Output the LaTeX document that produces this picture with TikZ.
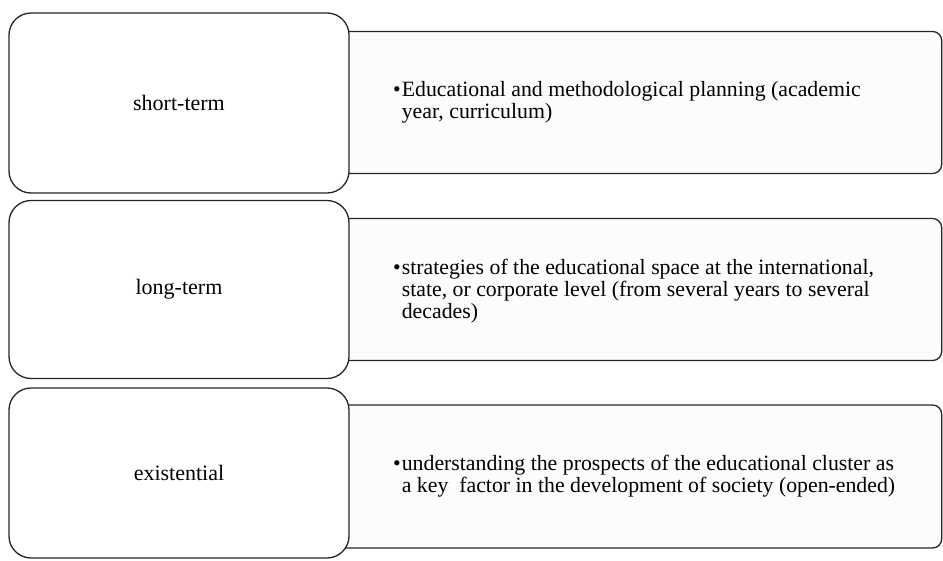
\documentclass[tikz,border=0pt]{standalone}
\usepackage{fontspec}
\setmainfont{Liberation Serif}
\usetikzlibrary{positioning}

\begin{document}
\begin{tikzpicture}[
    x=1pt, y=-1pt,
    termbox/.style ={draw=black!85, line width=1.3pt, fill=white,
                     rounded corners=22pt, minimum width=340pt,
                     font=\fontsize{22}{26}\selectfont},
    planbox/.style ={draw=black!85, line width=1.3pt, fill=black!1,
                     rounded corners=9pt, anchor=west, minimum width=611pt,
                     minimum height=142pt},
    plantext/.style={anchor=west, align=left, inner sep=0pt,
                     font=\fontsize{21.8}{22}\selectfont}
]
\useasboundingbox (0,0) rectangle (943,560);

% Right-hand frames go first, the rounded boxes cover their left ends
\node[planbox] (shortplan) at (330,102.5) {};
\node[planbox] (longplan)  at (330,289.5) {};
\node[planbox, minimum height=143pt] (exisplan) at (330,476.5) {};

% Left column
\node[termbox, minimum height=180pt] (short) at (179,103) {short-term};
\node[termbox, minimum height=178pt] (long)  at (179,289.5) {long-term};
\node[termbox, minimum height=170pt] (exis)  at (179,473) {existential};

% Descriptions
\node[plantext, right=63pt of shortplan.west]
    {\textbullet\hspace{1pt}Educational and methodological planning (academic\\
     \phantom{\textbullet\hspace{1pt}}year, curriculum)};
\node[plantext, right=63pt of longplan.west, yshift=-2pt]
    {\textbullet\hspace{1pt}strategies of the educational space at the international,\\
     \phantom{\textbullet\hspace{1pt}}state, or corporate level (from several years to several\\
     \phantom{\textbullet\hspace{1pt}}decades)};
\node[plantext, right=63pt of exisplan.west]
    {\textbullet\hspace{1pt}understanding the prospects of the educational cluster as\\
     \phantom{\textbullet\hspace{1pt}}a key\ \ factor in the development of society (open-ended)};

\end{tikzpicture}
\end{document}
